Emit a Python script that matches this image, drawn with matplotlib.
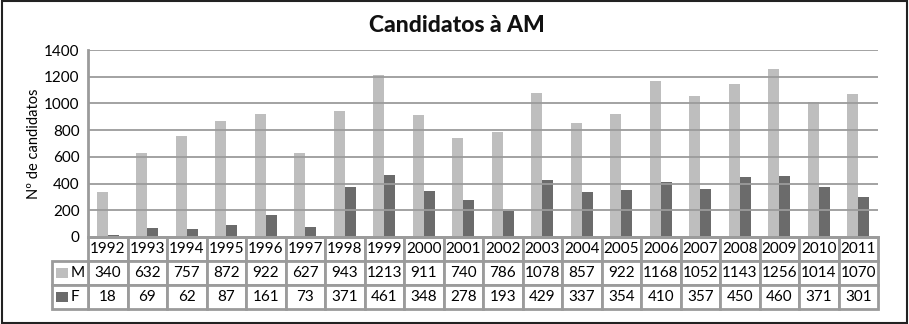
import matplotlib.pyplot as plt
from matplotlib.patches import Rectangle
import numpy as np

plt.rcParams['font.family'] = ['Lato', 'DejaVu Sans']

anos = ['1992', '1993', '1994', '1995', '1996', '1997', '1998', '1999', '2000', '2001',
        '2002', '2003', '2004', '2005', '2006', '2007', '2008', '2009', '2010', '2011']
masc = [340, 632, 757, 872, 922, 627, 943, 1213, 911, 740,
        786, 1078, 857, 922, 1168, 1052, 1143, 1256, 1014, 1070]
fem = [18, 69, 62, 87, 161, 73, 371, 461, 348, 278,
       193, 429, 337, 354, 410, 357, 450, 460, 371, 301]

cor_m = '#bebebe'
cor_f = '#6b6b6b'
cinza = '#9b9b9b'

fig = plt.figure(figsize=(9.09, 3.24), dpi=100)
ax = fig.add_axes([88/909, 1-237/324, 790/909, 187/324])

x = np.arange(len(anos))
w = 0.28
ax.bar(x - w/2, masc, w, color=cor_m, zorder=1)
ax.bar(x + w/2, fem, w, color=cor_f, zorder=1)

ax.set_xlim(-0.5, len(anos) - 0.5)
ax.set_ylim(0, 1400)
ax.set_yticks(range(0, 1401, 200))
ax.set_xticks([])
ax.yaxis.grid(True, color=cinza, linewidth=1.3, zorder=3)
ax.set_axisbelow(False)
for s in ['top', 'right']:
    ax.spines[s].set_visible(False)
ax.spines['left'].set_color(cinza)
ax.spines['left'].set_linewidth(2)
ax.spines['bottom'].set_color(cinza)
ax.spines['bottom'].set_linewidth(2)
ax.tick_params(axis='y', length=0, labelsize=11, pad=6)
ax.set_ylabel('Nº de candidatos', fontsize=10.5, labelpad=2)

fig.text(457/909, 1-26/324, 'Candidatos à AM', ha='center', va='center',
         fontsize=16.5, fontweight='black', color='#111111')

# tabela de dados por baixo do gráfico
h = 24/187
trans = ax.get_xaxis_transform()
linhas = [anos, [str(v) for v in masc], [str(v) for v in fem]]
for r, vals in enumerate(linhas):
    y0 = -(r + 1) * h
    for i, v in enumerate(vals):
        ax.add_patch(Rectangle((i - 0.5, y0), 1, h, transform=trans, facecolor='white',
                               edgecolor=cinza, linewidth=2, clip_on=False))
        ax.text(i, y0 + h/2, v, transform=trans, ha='center', va='center',
                fontsize=11, clip_on=False)

# coluna da legenda
xl = -1.41
for r, (nome, cor) in enumerate([('M', cor_m), ('F', cor_f)], start=1):
    y0 = -(r + 1) * h
    ax.add_patch(Rectangle((xl, y0), -0.5 - xl, h, transform=trans, facecolor='white',
                           edgecolor=cinza, linewidth=2, clip_on=False))
    ax.add_patch(Rectangle((xl + 0.1, y0 + h*0.28), 0.3, h*0.44, transform=trans,
                           facecolor=cor, edgecolor='none', clip_on=False))
    ax.text(xl + 0.47, y0 + h/2, nome, transform=trans, ha='left', va='center',
            fontsize=11, clip_on=False)

# moldura exterior
fig.patches.append(Rectangle((0.002, 0.004), 0.996, 0.992, transform=fig.transFigure,
                             fill=False, edgecolor='#222222', linewidth=1.5))

plt.savefig('out.png', dpi=100)
